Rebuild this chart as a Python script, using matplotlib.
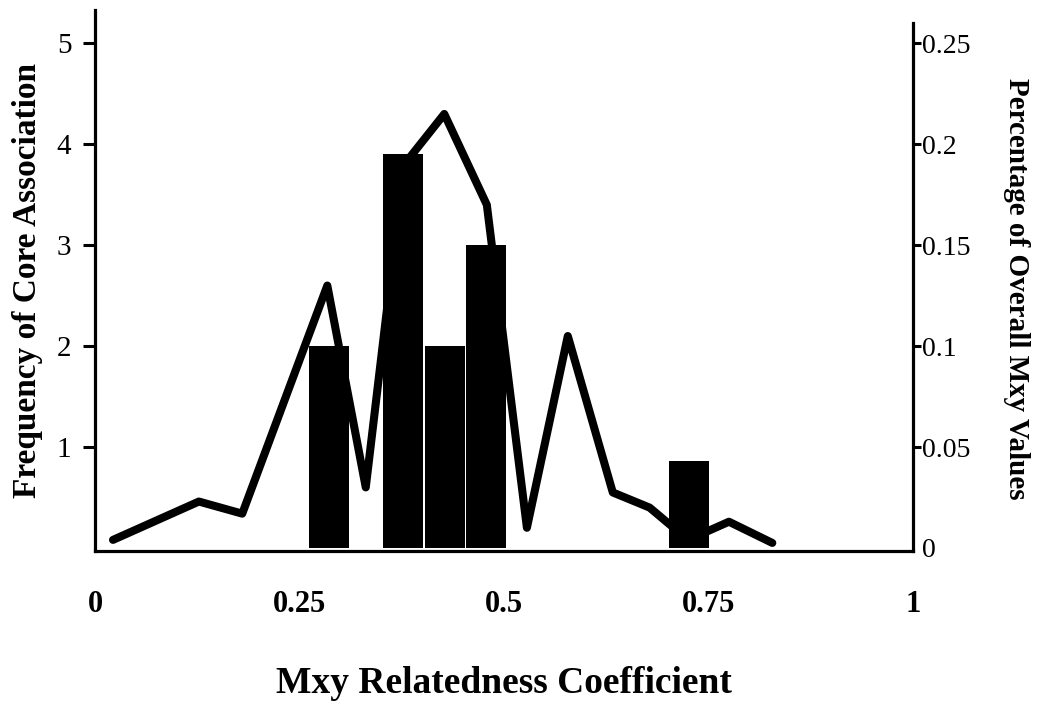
import matplotlib
matplotlib.use("Agg")
import matplotlib.pyplot as plt

# Histogram of core-association frequency (bars, left axis)
bar_x = [0.286, 0.377, 0.428, 0.478, 0.726]
bar_freq = [2.0, 3.9, 2.0, 3.0, 0.86]

# Distribution of all Mxy values (line, right axis)
line_x = [0.022, 0.127, 0.180, 0.284, 0.331, 0.378, 0.427, 0.479,
          0.528, 0.578, 0.633, 0.678, 0.725, 0.775, 0.828]
line_pct = [0.004, 0.023, 0.017, 0.130, 0.030, 0.190, 0.215, 0.170,
            0.010, 0.105, 0.0275, 0.020, 0.004, 0.013, 0.0025]

x_ticks = [0, 0.25, 0.5, 0.75, 1]
x_tick_labels = ["0", "0.25", "0.5", "0.75", "1"]
left_ticks = [1, 2, 3, 4, 5]
left_tick_labels = ["1", "2", "3", "4", "5"]
right_ticks = [0, 0.05, 0.10, 0.15, 0.20, 0.25]
right_tick_labels = ["0", "0.05", "0.1", "0.15", "0.2", "0.25"]

plt.rcParams["font.family"] = ["Liberation Serif", "DejaVu Serif"]

fig = plt.figure(figsize=(10.46, 7.06), dpi=100)
ax = fig.add_axes([95 / 1046, 155 / 706, 818 / 1046, 541 / 706])
ax2 = ax.twinx()

# bars above the line
ax.set_zorder(ax2.get_zorder() + 1)
ax.patch.set_visible(False)

ax2.plot(line_x, line_pct, color="black", lw=5.8,
         solid_joinstyle="round", solid_capstyle="round")
ax.bar(bar_x, bar_freq, width=0.049, color="black", edgecolor="none")

ymin, ymax = -0.03, 5.33
scale = 0.05
ax.set_xlim(0, 1)
ax.set_ylim(ymin, ymax)
ax2.set_ylim(ymin * scale, ymax * scale)

spine_w = 2.3
for s in ("top", "right"):
    ax.spines[s].set_visible(False)
for s in ("top", "left", "bottom"):
    ax2.spines[s].set_visible(False)
ax.spines["left"].set_linewidth(spine_w)
ax.spines["bottom"].set_linewidth(spine_w)
ax2.spines["right"].set_linewidth(spine_w)
ax2.spines["right"].set_bounds(ymin * scale, 0.26)

ax.set_xticks(x_ticks)
ax.set_xticklabels(x_tick_labels, fontsize=22, fontweight="bold")
ax.tick_params(axis="x", length=0, pad=28)

ax.set_yticks(left_ticks)
ax.set_yticklabels(left_tick_labels, fontsize=21)
ax.tick_params(axis="y", direction="out", length=9, width=2.2, pad=8)

ax2.set_yticks(right_ticks)
ax2.set_yticklabels(right_tick_labels, fontsize=20)
ax2.tick_params(axis="y", direction="out", length=5.5, width=2.2, pad=1)
ax2.yaxis.get_major_ticks()[0].tick2line.set_visible(False)

ax.set_xlabel("Mxy Relatedness Coefficient", fontsize=27, fontweight="bold",
              labelpad=34)
ax.set_ylabel("Frequency of Core Association", fontsize=24, fontweight="bold",
              labelpad=10)
ax2.set_ylabel("Percentage of Overall Mxy Values", fontsize=21,
               fontweight="bold", rotation=-90, labelpad=42)
ax2.yaxis.set_label_coords(1.143, 0.485)

fig.savefig("out.png", dpi=100)
